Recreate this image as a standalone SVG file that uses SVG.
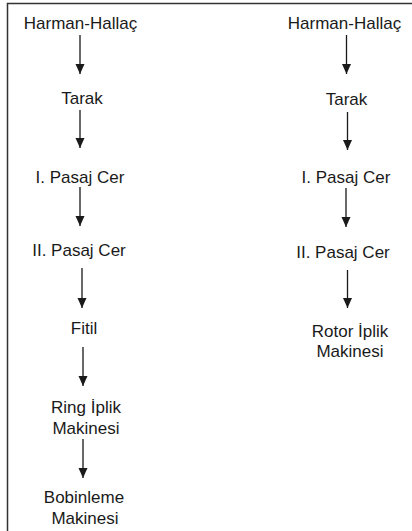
<svg xmlns="http://www.w3.org/2000/svg" width="412" height="531" viewBox="0 0 412 531">
<style>
text{font-family:"Liberation Sans",Arial,sans-serif;font-size:17px;fill:#1a1a1a;text-anchor:middle}
.c line{stroke:#1a1a1a;stroke-width:1.3;marker-end:url(#ah)}
.frame{fill:none;stroke:#333;stroke-width:1.5}
</style>
<defs>
<marker id="ah" markerUnits="userSpaceOnUse" markerWidth="11" markerHeight="10" refX="10" refY="5" orient="auto">
<path d="M0,0.5 L10,5 L0,9.5 z" fill="#1a1a1a"/>
</marker>
</defs>
<rect width="412" height="531" fill="#fff"/>
<path class="frame" d="M7.5,531 V3.5 H412"/>
<g id="l-harman"><text x="80.5" y="29">Harman-Hallaç</text></g>
<g id="l-tarak"><text x="82" y="104">Tarak</text></g>
<g id="l-pasaj1"><text x="80" y="183">I. Pasaj Cer</text></g>
<g id="l-pasaj2"><text x="79" y="256">II. Pasaj Cer</text></g>
<g id="l-fitil"><text x="84" y="334">Fitil</text></g>
<g id="l-ring"><text x="86" y="413">Ring İplik</text><text x="86" y="434">Makinesi</text></g>
<g id="l-bobin"><text x="84" y="503">Bobinleme</text><text x="85" y="524">Makinesi</text></g>
<g id="r-harman"><text x="344.5" y="29">Harman-Hallaç</text></g>
<g id="r-tarak"><text x="346.5" y="105">Tarak</text></g>
<g id="r-pasaj1"><text x="346" y="183">I. Pasaj Cer</text></g>
<g id="r-pasaj2"><text x="343" y="258">II. Pasaj Cer</text></g>
<g id="r-rotor"><text x="350" y="337">Rotor İplik</text><text x="350" y="357">Makinesi</text></g>
<g id="connectors" class="c">
<line x1="80" y1="35" x2="80" y2="74"/>
<line x1="80" y1="110" x2="80" y2="148"/>
<line x1="80" y1="187" x2="80" y2="226"/>
<line x1="82" y1="268" x2="82" y2="308"/>
<line x1="83" y1="347" x2="83" y2="386"/>
<line x1="83" y1="439" x2="83" y2="478"/>
<line x1="346.5" y1="35" x2="346.5" y2="74"/>
<line x1="347.5" y1="112" x2="347.5" y2="150"/>
<line x1="346" y1="188" x2="346" y2="227"/>
<line x1="347.5" y1="270" x2="347.5" y2="308"/>
</g>
</svg>
